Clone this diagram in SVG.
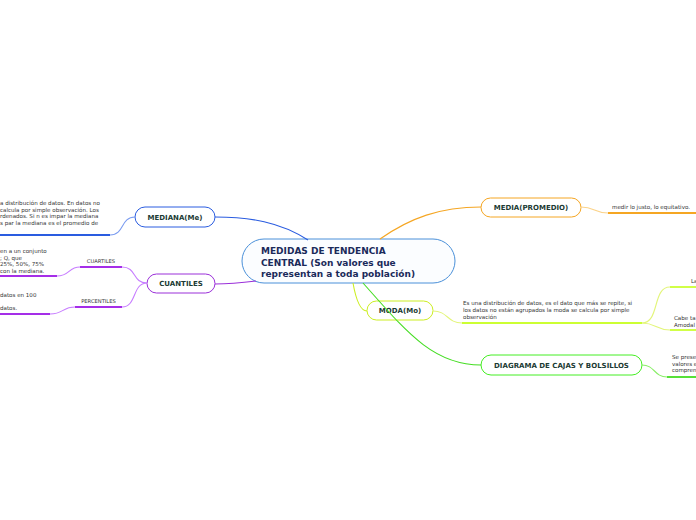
<svg xmlns="http://www.w3.org/2000/svg" width="696" height="520" viewBox="0 0 696 520">
<style>
.node{fill:#ffffff;stroke-width:1}
.nt{font-family:"DejaVu Sans",Verdana,sans-serif;font-weight:bold;font-size:7px;fill:#1b3a33;text-anchor:middle}
.ct{font-family:"DejaVu Sans",Verdana,sans-serif;font-weight:bold;font-size:9px;fill:#1a2a5a}
.bt{font-family:"DejaVu Sans",Verdana,sans-serif;font-size:5.55px;fill:#333333}
.lb{font-family:"DejaVu Sans",Verdana,sans-serif;font-size:5.2px;fill:#333333;text-anchor:middle}
.c{fill:none;stroke-width:1.1}
.u{fill:none;stroke-width:1.8}
</style>
<rect width="696" height="520" fill="#ffffff"/>
<g id="central">
  <rect x="242" y="239" width="213" height="44" rx="22" fill="#fbfdff" stroke="#4a90d9" stroke-width="1"/>
  <text class="ct" x="261" y="254">MEDIDAS DE TENDENCIA</text>
  <text class="ct" x="261" y="265.5">CENTRAL (Son valores que</text>
  <text class="ct" x="261" y="277">representan a toda población)</text>
</g>
<g id="mediana">
  <rect class="node" x="135" y="207" width="80" height="20" rx="10" stroke="#2a5ce0"/>
  <text class="nt" x="175" y="220">MEDIANA(Me)</text>
</g>
<g id="mediana-text">
  <text class="bt" x="0" y="205">a distribución de datos.  En datos no</text>
  <text class="bt" x="0" y="211.5"> calcula por simple observación. Los</text>
  <text class="bt" x="0" y="218">rdenados.  Si n es impar la mediana</text>
  <text class="bt" x="0" y="224.5">s par la mediana es el promedio de</text>
</g>
<g id="cuantiles">
  <rect class="node" x="147" y="274" width="68" height="19" rx="9.5" stroke="#9b30d9"/>
  <text class="nt" x="181" y="286">CUANTILES</text>
</g>
<g id="cuartiles">
  <text class="lb" x="101" y="263">CUARTILES</text>
</g>
<g id="cuartiles-text">
  <text class="bt" x="0" y="253">en a un conjunto</text>
  <text class="bt" x="0" y="259.5">; Q, que</text>
  <text class="bt" x="0" y="266">25%, 50%, 75%</text>
  <text class="bt" x="0" y="272.5">con la mediana.</text>
</g>
<g id="percentiles">
  <text class="lb" x="98.5" y="303">PERCENTILES</text>
</g>
<g id="percentiles-text">
  <text class="bt" x="0" y="297"> datos en 100</text>
  <text class="bt" x="0" y="310">datos.</text>
</g>
<g id="media">
  <rect class="node" x="481" y="198" width="100" height="19" rx="9.5" stroke="#f5a623"/>
  <text class="nt" x="531" y="210">MEDIA(PROMEDIO)</text>
</g>
<g id="media-text">
  <text class="bt" x="612" y="209">medir lo justo, lo equitativo.</text>
</g>
<g id="moda">
  <rect class="node" x="367" y="301" width="66" height="19" rx="9.5" stroke="#ccee22"/>
  <text class="nt" x="400" y="313">MODA(Mo)</text>
</g>
<g id="moda-text">
  <text class="bt" x="463" y="305">Es una distribución de datos, es el dato que más se repite, si</text>
  <text class="bt" x="463" y="312">los datos no están agrupados la moda se calcula por simple</text>
  <text class="bt" x="463" y="319">observación</text>
</g>
<g id="moda-la">
  <text class="bt" x="691" y="283">La</text>
</g>
<g id="moda-cabe">
  <text class="bt" x="674" y="320">Cabe ta</text>
  <text class="bt" x="674" y="326.5">Amodal</text>
</g>
<g id="diagrama">
  <rect class="node" x="481" y="355" width="161" height="20" rx="10" stroke="#44ee22"/>
  <text class="nt" x="561.5" y="368">DIAGRAMA DE CAJAS Y BOLSILLOS</text>
</g>
<g id="diagrama-text">
  <text class="bt" x="672" y="359">Se prese</text>
  <text class="bt" x="672" y="365.5">valores e</text>
  <text class="bt" x="672" y="372">compren</text>
</g>
<g id="connectors">
  <path class="c" stroke="#2a5ce0" d="M308,240 C280,222 250,217 215,217"/>
  <path class="c" stroke="#9b30d9" d="M256,281 C240,283 228,284 215,284"/>
  <path class="c" stroke="#f5a623" d="M380,239 C410,218 440,207 481,207"/>
  <path class="c" stroke="#ccee22" d="M353,283 C356,300 360,311 367,311"/>
  <path class="c" stroke="#44dd22" d="M363,283 C405,330 432,365 481,365"/>
  <path class="c" stroke="#7b9cf0" d="M135,217 C120,217 125,235 110,235"/>
  <path class="u" stroke="#2a5ce0" d="M0,235 L110,235"/>
  <path class="c" stroke="#c77dff" d="M147,283 C132,283 137,267 122,267"/>
  <path class="u" stroke="#a52ee8" d="M80,267 L122,267"/>
  <path class="c" stroke="#c77dff" d="M147,283 C132,283 137,307 122,307"/>
  <path class="u" stroke="#a52ee8" d="M75,307 L122,307"/>
  <path class="c" stroke="#c77dff" d="M80,267 C68,267 70,276 57,276"/>
  <path class="u" stroke="#a52ee8" d="M0,276 L57,276"/>
  <path class="c" stroke="#c77dff" d="M75,307 C62,307 64,314 50,314"/>
  <path class="u" stroke="#a52ee8" d="M0,314 L50,314"/>
  <path class="c" stroke="#fbd38a" d="M581,207 C595,207 594,213 608,213"/>
  <path class="u" stroke="#f5a623" d="M608,213 L696,213"/>
  <path class="c" stroke="#e3f57a" d="M433,311 C448,311 447,323 462,323"/>
  <path class="u" stroke="#ccff33" d="M462,323 L642,323"/>
  <path class="c" stroke="#e3f57a" d="M642,323 C660,323 652,287 670,287"/>
  <path class="u" stroke="#ccff33" d="M670,287 L696,287"/>
  <path class="c" stroke="#e3f57a" d="M642,323 C656,323 656,330 670,330"/>
  <path class="u" stroke="#ccff33" d="M670,330 L696,330"/>
  <path class="c" stroke="#88ee66" d="M642,365 C655,365 654,377 667,377"/>
  <path class="u" stroke="#44dd22" d="M667,377 L696,377"/>
</g>
</svg>
